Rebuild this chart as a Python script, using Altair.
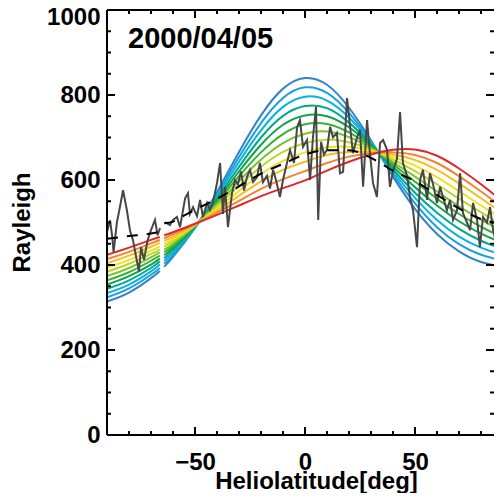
import altair as alt
import pandas as pd

# ---------------- data ----------------
TITLE_TEXT = "2000/04/05"
X_TITLE = "Heliolatitude[deg]"
Y_TITLE = "Rayleigh"

X_NODES = [-90, -80, -70, -66, -64, -60, -50, -40, -30, -20, -10, 0, 10, 20, 30, 40, 50, 60, 70, 80, 90]
NODE_SEG = ["a", "a", "a", "a", "b", "b", "b", "b", "b", "b", "b", "b", "b", "b", "b", "b", "b", "b", "b", "b", "b"]

CURVE_00 = [314, 335, 369, 386, 396, 419, 487, 572, 666, 752, 815, 840, 824, 770, 693, 608, 532, 473, 432, 407, 396]
CURVE_01 = [324, 345, 377, 393, 403, 424, 488, 567, 654, 734, 793, 818, 805, 758, 690, 614, 545, 489, 449, 424, 410]
CURVE_02 = [334, 354, 385, 401, 410, 429, 489, 562, 643, 717, 772, 796, 787, 747, 687, 620, 558, 506, 467, 441, 423]
CURVE_03 = [344, 364, 393, 408, 416, 435, 490, 557, 631, 700, 751, 774, 769, 735, 684, 625, 570, 523, 485, 457, 437]
CURVE_04 = [354, 374, 401, 415, 423, 440, 491, 552, 620, 683, 730, 752, 750, 724, 681, 631, 583, 540, 503, 474, 451]
CURVE_05 = [364, 383, 410, 422, 430, 445, 492, 548, 609, 665, 708, 731, 732, 712, 678, 637, 596, 556, 520, 490, 465]
CURVE_06 = [374, 393, 418, 430, 436, 450, 493, 543, 597, 648, 687, 709, 714, 701, 675, 642, 608, 573, 538, 507, 479]
CURVE_07 = [384, 403, 426, 437, 443, 456, 493, 538, 586, 631, 666, 687, 695, 689, 672, 648, 621, 590, 556, 524, 493]
CURVE_08 = [394, 412, 434, 444, 450, 461, 494, 533, 574, 614, 645, 665, 677, 678, 669, 654, 634, 607, 574, 540, 507]
CURVE_09 = [404, 422, 443, 452, 457, 466, 495, 528, 563, 597, 624, 643, 659, 666, 666, 660, 647, 624, 592, 557, 521]
CURVE_10 = [414, 431, 451, 459, 463, 472, 496, 523, 551, 579, 602, 621, 640, 655, 663, 665, 659, 640, 609, 573, 535]
CURVE_11 = [424, 441, 459, 466, 470, 477, 497, 518, 540, 562, 581, 599, 622, 643, 660, 671, 672, 657, 627, 590, 549]
CURVES = [CURVE_00, CURVE_01, CURVE_02, CURVE_03, CURVE_04, CURVE_05,
          CURVE_06, CURVE_07, CURVE_08, CURVE_09, CURVE_10, CURVE_11]
CURVE_COLORS = ["#3483c6", "#18a0dc", "#08b2e6", "#00a98a", "#0fa447", "#36b236",
                "#7cc42c", "#bcd62a", "#eee31e", "#f7bd22", "#f1862e", "#e2262a"]

OBS_X_A = [-90.0, -88.6, -87.7, -87.0, -85.5, -84.0, -82.7, -81.0, -79.5, -78.2, -76.8, -75.5,
           -74.5, -73.2, -71.5, -70.0, -68.2, -67.0, -65.9]
OBS_V_A = [478, 505, 470, 430, 500, 540, 576, 530, 480, 459, 420, 385,
           442, 412, 459, 482, 506, 470, 487]
OBS_X_B = [-63.6, -61.4, -60.0, -58.2, -56.8, -54.5, -53.2, -52.3, -50.9, -49.1, -47.7, -46.4,
           -44.5, -43.2, -41.8, -40.0, -38.6, -37.3, -36.4, -35.0, -33.2, -31.8, -30.5, -29.1,
           -27.7, -26.4, -25.0, -23.6, -21.8, -20.5, -19.1, -17.3, -15.9, -14.5, -13.2, -11.4,
           -10.0, -8.2, -6.8, -5.0, -3.6, -2.3, -0.9, 0.9, 2.3, 3.6, 5.0, 6.0,
           7.3, 8.6, 10.0, 11.4, 12.7, 14.5, 15.9, 17.3, 19.1, 20.5, 21.8, 23.6,
           25.0, 26.4, 28.2, 29.5, 30.9, 32.7, 34.1, 35.5, 37.3, 38.6, 40.0, 41.8,
           43.2, 44.5, 46.4, 47.7, 49.1, 50.9, 52.3, 53.6, 55.5, 56.8, 58.2, 60.0,
           61.4, 62.7, 64.5, 65.9, 67.3, 69.1, 70.5, 71.8, 73.6, 75.0, 76.4, 78.2,
           79.5, 80.9, 82.7, 84.1, 85.5, 87.3, 88.6, 90.0]
OBS_V_B = [501, 494, 506, 513, 489, 557, 569, 520, 536, 515, 553, 513,
           546, 530, 548, 593, 640, 520, 584, 489, 569, 600, 590, 620,
           575, 607, 624, 595, 607, 640, 595, 610, 580, 624, 600, 560,
           600, 640, 670, 640, 725, 741, 678, 694, 600, 700, 772, 506,
           690, 660, 671, 725, 700, 711, 616, 619, 793, 725, 663, 700,
           718, 584, 741, 663, 593, 560, 687, 694, 671, 584, 620, 650,
           760, 640, 610, 560, 529, 442, 600, 624, 553, 616, 590, 546,
           584, 560, 529, 553, 506, 529, 616, 522, 500, 482, 546, 506,
           442, 513, 500, 536, 482, 442, 475, 460]

MEAN_X_A = [-90, -80, -70, -66]
MEAN_V_A = [462, 468, 474, 478]
MEAN_X_B = [-64, -60, -55, -50, -40, -30, -20, -10, 0, 10, 20, 30, 40, 50, 60, 70, 80, 90]
MEAN_V_B = [498, 502, 516, 530, 556, 585, 615, 638, 660, 670, 670, 652, 622, 597, 565, 533, 508, 497]

# the reference frame runs to +90 just past the window's right edge; the visible part ends near +86
X_DOMAIN = [-90, 85.9]
Y_DOMAIN = [0, 1000]
X_LABELS = [-50, 0, 50]
X_MINOR = [-80, -70, -60, -40, -30, -20, -10, 10, 20, 30, 40, 60, 70, 80]
Y_LABELS = [0, 200, 400, 600, 800, 1000]
Y_MINOR = [50, 100, 150, 250, 300, 350, 450, 500, 550, 650, 700, 750, 850, 900, 950]

# ---------------- build tables ----------------
W, H = 387, 425
FONT = "Liberation Sans"

curve_rows = []
for k, vals in enumerate(CURVES):
    for x, v, s in zip(X_NODES, vals, NODE_SEG):
        curve_rows.append({"x": x, "v": v, "curve": f"c{k:02d}", "grp": f"c{k:02d}{s}"})
curve_df = pd.DataFrame(curve_rows)
curve_names = [f"c{k:02d}" for k in range(len(CURVES))]

obs_df = pd.DataFrame(
    [{"x": x, "v": v, "grp": "a"} for x, v in zip(OBS_X_A, OBS_V_A)]
    + [{"x": x, "v": v, "grp": "b"} for x, v in zip(OBS_X_B, OBS_V_B)]
)
mean_df = pd.DataFrame(
    [{"x": x, "v": v, "grp": "a"} for x, v in zip(MEAN_X_A, MEAN_V_A)]
    + [{"x": x, "v": v, "grp": "b"} for x, v in zip(MEAN_X_B, MEAN_V_B)]
)

xs = alt.Scale(domain=X_DOMAIN, nice=False, zero=False)
ys = alt.Scale(domain=Y_DOMAIN, nice=False)

X_AXIS = alt.Axis(values=X_LABELS, title=X_TITLE, labelPadding=15, format="d",
                  titleX=209, titleY=53, titleBaseline="alphabetic", titleAlign="center")
Y_AXIS = alt.Axis(values=Y_LABELS, title=Y_TITLE, labelPadding=7, format="d",
                  labelOffset={"condition": {"test": "datum.value == 1000", "value": 7}, "value": 0},
                  titleX=-78, titleY=212, titleBaseline="alphabetic", titleAlign="center")


def X(field):
    return alt.X(field, scale=xs, axis=X_AXIS)


def Y(field):
    return alt.Y(field, scale=ys, axis=Y_AXIS)


curves = alt.Chart(curve_df).mark_line(interpolate="natural", strokeWidth=2, clip=True).encode(
    x=X("x:Q"), y=Y("v:Q"),
    color=alt.Color("curve:N", scale=alt.Scale(domain=curve_names, range=CURVE_COLORS), legend=None),
    detail="grp:N",
)

obs = alt.Chart(obs_df).mark_line(color="#474747", strokeWidth=2, clip=True).encode(
    x=X("x:Q"), y=Y("v:Q"), detail="grp:N",
)

mean = alt.Chart(mean_df).mark_line(color="black", strokeWidth=2, strokeDash=[11, 9],
                                    interpolate="monotone", clip=True).encode(
    x=X("x:Q"), y=Y("v:Q"), detail="grp:N",
)


def xticks(vals, y0, y1):
    return alt.Chart(pd.DataFrame({"x": vals})).mark_rule(color="black", strokeWidth=2).encode(
        x=X("x:Q"), y=alt.value(y0), y2=alt.value(y1))


def yticks(vals, x0, x1):
    return alt.Chart(pd.DataFrame({"v": vals})).mark_rule(color="black", strokeWidth=2).encode(
        y=Y("v:Q"), x=alt.value(x0), x2=alt.value(x1))


MAJ, MIN = 8, 4
ticks = [
    xticks(X_LABELS, H, H - MAJ), xticks(X_MINOR, H, H - MIN),
    xticks(X_LABELS, 0, MAJ), xticks(X_MINOR, 0, MIN),
    yticks(Y_LABELS, 0, MAJ), yticks(Y_MINOR, 0, MIN),
    yticks(Y_LABELS, W, W - MAJ), yticks(Y_MINOR, W, W - MIN),
]

dummy = pd.DataFrame({"a": [0]})
frame = [
    alt.Chart(dummy).mark_rule(color="black", strokeWidth=2).encode(
        x=alt.value(0), y=alt.value(0), y2=alt.value(H)),
    alt.Chart(dummy).mark_rule(color="black", strokeWidth=2).encode(
        x=alt.value(0), x2=alt.value(W), y=alt.value(0)),
    alt.Chart(dummy).mark_rule(color="black", strokeWidth=2).encode(
        x=alt.value(0), x2=alt.value(W), y=alt.value(H)),
]

date_label = alt.Chart(pd.DataFrame({"label": [TITLE_TEXT]})).mark_text(
    font=FONT, fontSize=29, fontWeight="bold", align="left", baseline="alphabetic", color="black"
).encode(x=alt.value(21), y=alt.value(38), text="label:N")

chart = alt.layer(curves, obs, mean, *ticks, *frame, date_label).properties(
    width=W, height=H,
    padding={"left": 99, "top": 2, "right": 0, "bottom": 58},
    autosize=alt.AutoSizeParams(type="none"),
).configure_view(stroke=None).configure_axis(
    domain=False, ticks=False, tickSize=0, grid=False, labelFlush=False,
    labelFont=FONT, labelFontWeight="bold", labelFontSize=24, labelColor="black",
    titleFont=FONT, titleFontWeight="bold", titleFontSize=24, titleColor="black",
)

chart.save("out.html", embed_options={"renderer": "svg", "actions": False})
